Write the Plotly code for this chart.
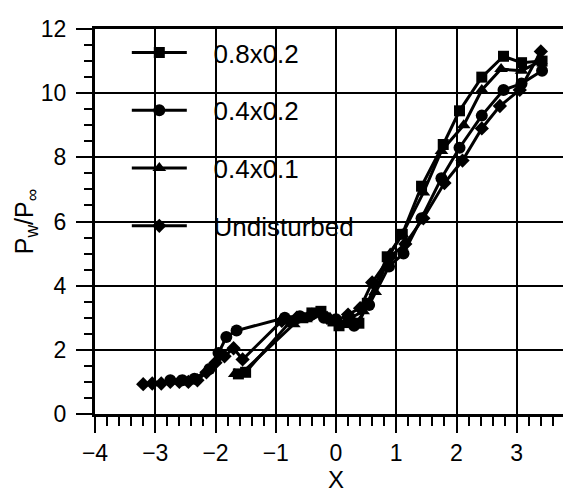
import plotly.graph_objects as go

# Data
sq_x = [-1.62, -1.5, -0.75, -0.55, -0.4, -0.25, -0.05, 0.05, 0.2, 0.38, 0.52, 0.85, 1.1, 1.42, 1.78, 2.05, 2.42, 2.78, 3.08, 3.42]
sq_y = [1.25, 1.3, 2.9, 3.0, 3.15, 3.2, 2.9, 2.75, 2.85, 2.83, 3.45, 4.9, 5.6, 7.1, 8.4, 9.45, 10.5, 11.15, 10.95, 11.0]

ci_x = [-2.75, -2.55, -2.35, -2.1, -1.95, -1.82, -1.65, -0.85, -0.6, -0.4, -0.2, 0.0, 0.3, 0.55, 0.88, 1.12, 1.42, 1.75, 2.05, 2.42, 2.78, 3.08, 3.42]
ci_y = [1.05, 1.05, 1.1, 1.4, 1.9, 2.4, 2.6, 3.0, 3.05, 3.1, 3.0, 2.95, 2.75, 3.4, 4.6, 5.0, 6.1, 7.35, 8.3, 9.3, 10.1, 10.3, 10.7]

tr_x = [-1.68, -1.55, -0.7, -0.5, -0.3, -0.1, 0.05, 0.25, 0.45, 0.65, 0.9, 1.1, 1.45, 1.75, 2.12, 2.42, 2.74, 3.08, 3.4]
tr_y = [1.25, 1.3, 2.8, 2.95, 3.1, 3.0, 2.85, 3.0, 3.2, 3.8, 5.0, 5.6, 6.9, 8.2, 9.0, 10.1, 10.75, 10.7, 11.0]

di_x = [-3.2, -3.05, -2.9, -2.75, -2.6, -2.45, -2.3, -2.15, -2.0, -1.85, -1.7, -1.55, -0.9, -0.65, -0.4, -0.15, 0.0, 0.2, 0.4, 0.6, 0.9, 1.15, 1.45, 1.8, 2.1, 2.42, 2.72, 3.05, 3.4]
di_y = [0.93, 0.95, 0.95, 1.0, 1.0, 1.0, 1.05, 1.3, 1.6, 1.8, 2.05, 1.7, 2.9, 3.0, 3.1, 3.0, 2.9, 3.1, 3.3, 4.1, 4.9, 5.3, 6.1, 7.2, 7.9, 8.9, 9.6, 10.1, 11.3]

series = [
    ("0.8x0.2", sq_x, sq_y, "square", 11),
    ("0.4x0.2", ci_x, ci_y, "circle", 12),
    ("0.4x0.1", tr_x, tr_y, "triangle-up", 12),
    ("Undisturbed", di_x, di_y, "diamond", 11),
]

pad = "\u00a0\u00a0\u00a0"
fig = go.Figure()
for i, (name, xs, ys, sym, sz) in enumerate(series):
    fig.add_trace(go.Scatter(
        x=xs, y=ys, name=pad + name, mode="lines+markers", legendgroup=str(i),
        line=dict(color="black", width=3),
        marker=dict(symbol=sym, size=sz, color="black"),
    ))

font = "Liberation Sans, Arial, sans-serif"
fig.update_layout(
    width=571, height=492,
    margin=dict(l=87, r=2, t=21, b=86),
    paper_bgcolor="white", plot_bgcolor="white",
    font=dict(family=font, color="black", size=23),
    legend=dict(
        x=0.066, y=1.0, xanchor="left", yanchor="top",
        bgcolor="rgba(0,0,0,0)", font=dict(size=26),
        traceorder="grouped", tracegroupgap=21, itemwidth=55,
    ),
    xaxis=dict(
        range=[-4, 4.0001], dtick=1, tick0=0, showgrid=True, gridcolor="black", gridwidth=2,
        zeroline=False, showline=True, linecolor="black", linewidth=3, mirror=True,
        ticks="outside", ticklen=16, tickwidth=2, tickcolor="black",
        minor=dict(dtick=0.2, ticks="outside", ticklen=9, tickwidth=2, tickcolor="black", showgrid=False),
        tickfont=dict(size=23), automargin=False, ticklabeloverflow="allow",
        title=dict(text="X", font=dict(size=24), standoff=1),
    ),
    yaxis=dict(
        range=[0, 12], dtick=2, showgrid=True, gridcolor="black", gridwidth=2,
        zeroline=False, showline=True, linecolor="black", linewidth=3, mirror=True,
        ticks="outside", ticklen=16, tickwidth=2, tickcolor="black",
        minor=dict(dtick=0.5, ticks="outside", ticklen=8, tickwidth=2, tickcolor="black", showgrid=False),
        tickfont=dict(size=23), automargin=False, ticklabelstandoff=5,
        title=dict(text="P<sub>w</sub>/P<sub>∞</sub>", font=dict(size=25), standoff=1),
    ),
)

fig.write_html("out.html")
